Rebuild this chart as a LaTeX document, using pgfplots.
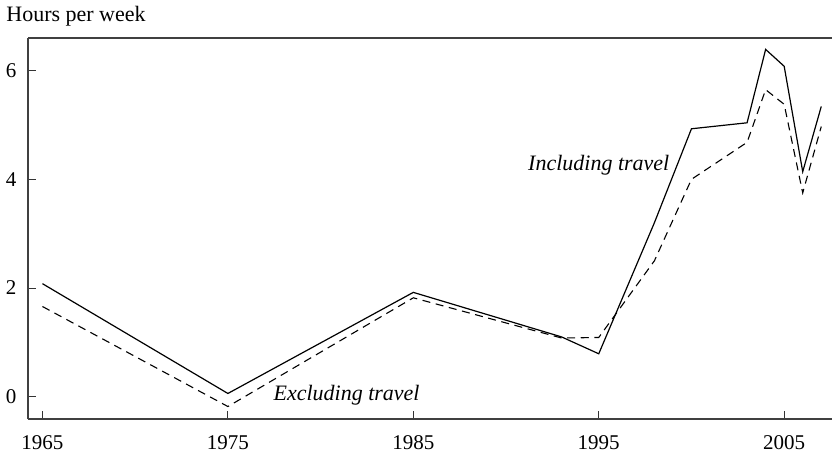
\documentclass[border=0pt]{standalone}
\usepackage{fontspec}
\setmainfont{Liberation Serif}
\usepackage{pgfplots}
\pgfplotsset{compat=1.18}
\begin{document}
\fontsize{11}{13}\selectfont
\begin{tikzpicture}
\begin{axis}[
  scale only axis,
  width=402pt, height=190.5pt,
  xmin=1964.22, xmax=2007.58,
  ymin=-0.41, ymax=6.60,
  axis lines=left,
  axis line style={-, black!75, line width=0.8pt},
  tick align=inside,
  major tick length=3.8pt,
  tick style={black!80, line width=0.5pt},
  xtick={1965,1975,1985,1995,2005},
  ytick={0,2,4,6},
  /pgf/number format/assume math mode=true,
  /pgf/number format/1000 sep={},
  ticklabel style={font=\fontsize{10.5}{12}\selectfont},
  xticklabel style={yshift=-4.3pt},
  yticklabel style={xshift=-2pt},
  clip=false,
]
\addplot[black, line width=0.6pt] coordinates {
 (1965,2.08) (1975,0.06) (1985,1.92) (1993,1.10) (1995,0.79) (1998,3.2)
 (2000,4.93) (2003,5.04) (2004,6.39) (2005,6.08) (2006,4.14) (2007,5.34)};
\addplot[black, line width=0.55pt, dash pattern=on 4pt off 2.8pt] coordinates {
 (1965,1.66) (1975,-0.18) (1985,1.82) (1993,1.08) (1995,1.09) (1998,2.5)
 (2000,4.0) (2003,4.68) (2004,5.65) (2005,5.38) (2006,3.75) (2007,4.97)};
\node[anchor=base, inner sep=0, font=\itshape] at (axis cs:1995.0,4.16) {Including travel};
\node[anchor=base, inner sep=0, font=\itshape] at (axis cs:1981.4,-0.07) {Excluding travel};
\coordinate (SW) at (rel axis cs:0,0);
\coordinate (NW) at (rel axis cs:0,1);
\coordinate (NE) at (rel axis cs:1,1);
\end{axis}
\draw[black!75, line width=0.8pt] (NW) -- (NE);
\node[anchor=base west, inner sep=0] at ([xshift=-11pt,yshift=8pt]NW) {Hours per week};
\pgfresetboundingbox
\path ([xshift=-14pt,yshift=-16.5pt]SW) rectangle ([yshift=19pt]NE);
\end{tikzpicture}
\end{document}
